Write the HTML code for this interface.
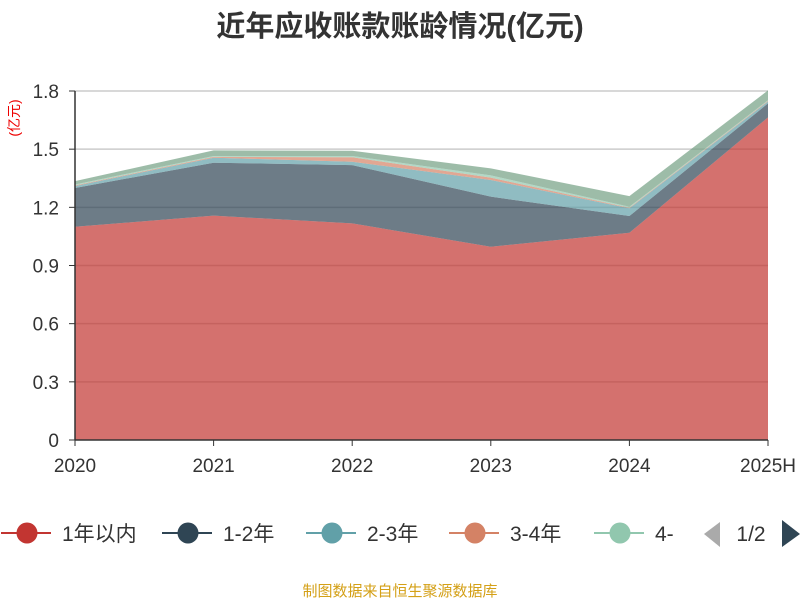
<!DOCTYPE html>
<html><head><meta charset="utf-8"><style>
body{margin:0;background:#fff;}
svg text{font-family:"Liberation Sans","Noto Sans CJK SC",sans-serif;}
</style></head><body>
<svg id="chart" width="800" height="600" xmlns="http://www.w3.org/2000/svg">
<text x="400" y="36" text-anchor="middle" font-size="29" font-weight="bold" fill="#333">近年应收账款账龄情况(亿元)</text>
<text transform="translate(19,118) rotate(-90)" text-anchor="middle" font-size="14" fill="#e00">(亿元)</text>
<g id="grid"></g><g id="areas"></g><g id="axes"></g><g id="legend"></g>
<text x="400" y="596" text-anchor="middle" font-size="15" fill="#d4a017">制图数据来自恒生聚源数据库</text>
</svg>
<script>
const categories=["2020","2021","2022","2023","2024","2025H"];
const seriesNames=["1年以内","1-2年","2-3年","3-4年","4-5年","5年以上"];
const s1=[1.10,1.157,1.117,0.997,1.069,1.664];
const s2=[0.20,0.273,0.301,0.258,0.086,0.072];
const s3=[0.01,0.026,0.017,0.086,0.04,0.01];
const s4=[0.003,0.004,0.023,0.012,0.003,0.003];
const s5=[0.005,0.005,0.007,0.012,0.005,0.003];
const s6=[0.017,0.029,0.027,0.036,0.055,0.051];
const yTicks=[0,0.3,0.6,0.9,1.2,1.5,1.8];
const colors=["#c23531","#2f4554","#61a0a8","#d48265","#91c7ae","#749f83"];
const NS="http://www.w3.org/2000/svg";
const x0=75,x1=768,yb=440,yt=91,ymax=1.8;
const X=i=>x0+(x1-x0)*i/(categories.length-1);
const Y=v=>yb-(yb-yt)*v/ymax;
function mk(t,a,p){const e=document.createElementNS(NS,t);for(const k in a)e.setAttribute(k,a[k]);p.appendChild(e);return e;}
const grid=document.getElementById('grid'),axes=document.getElementById('axes'),areas=document.getElementById('areas'),leg=document.getElementById('legend');
yTicks.forEach(v=>{
 if(v>0){const l=mk('line',{x1:x0,x2:x1,y1:Y(v),y2:Y(v),stroke:'#ccc','stroke-width':1.5},grid);
 
 }
 const t=mk('text',{x:59,y:Y(v)+7,'text-anchor':'end','font-size':19,fill:'#333'},axes);t.textContent=String(v===0?0:v.toFixed(1));
 
 
 mk('line',{x1:69,x2:x0,y1:Y(v),y2:Y(v),stroke:'#333'},axes);
});
const all=[s1,s2,s3,s4,s5,s6];let base=categories.map(()=>0);
all.forEach((s,k)=>{
 const top=s.map((v,i)=>base[i]+v);
 let d='M'+categories.map((c,i)=>X(i)+','+Y(top[i])).join('L');
 for(let i=categories.length-1;i>=0;i--)d+='L'+X(i)+','+Y(base[i]);
 const p=mk('path',{d:d+'Z',fill:colors[k],'fill-opacity':0.7},areas);
 
 
 base=top;
});
mk('line',{x1:x0,x2:x0,y1:yt,y2:yb,stroke:'#333','stroke-width':1.5},axes);
mk('line',{x1:x0,x2:x1,y1:yb,y2:yb,stroke:'#333','stroke-width':1.5},axes);
categories.forEach((c,i)=>{
 mk('line',{x1:X(i),x2:X(i),y1:yb,y2:yb+6,stroke:'#333'},axes);
 const t=mk('text',{x:X(i),y:472,'text-anchor':'middle','font-size':19,fill:'#333'},axes);t.textContent=c;
 
 
});
const lx=[27,188,332,475,620],labels=["1年以内","1-2年","2-3年","3-4年","4-"];
labels.forEach((n,k)=>{
 const g=mk('g',{},leg);
 
 
 mk('line',{x1:lx[k]-26,x2:lx[k]+24,y1:533,y2:533,stroke:colors[k],'stroke-width':2},g);
 mk('circle',{cx:lx[k],cy:533,r:10.5,fill:colors[k]},g);
 const t=mk('text',{x:lx[k]+35,y:541,'font-size':21,fill:'#333'},g);t.textContent=n;
});
const pl=mk('path',{d:'M720,522L720,547L704,534Z',fill:'#aaa'},leg);


const pt=mk('text',{x:751,y:541,'text-anchor':'middle','font-size':21,fill:'#333'},leg);pt.textContent='1/2';


const pr=mk('path',{d:'M782,520L782,547L800,534Z',fill:'#2f4554'},leg);


</script>
</body></html>
